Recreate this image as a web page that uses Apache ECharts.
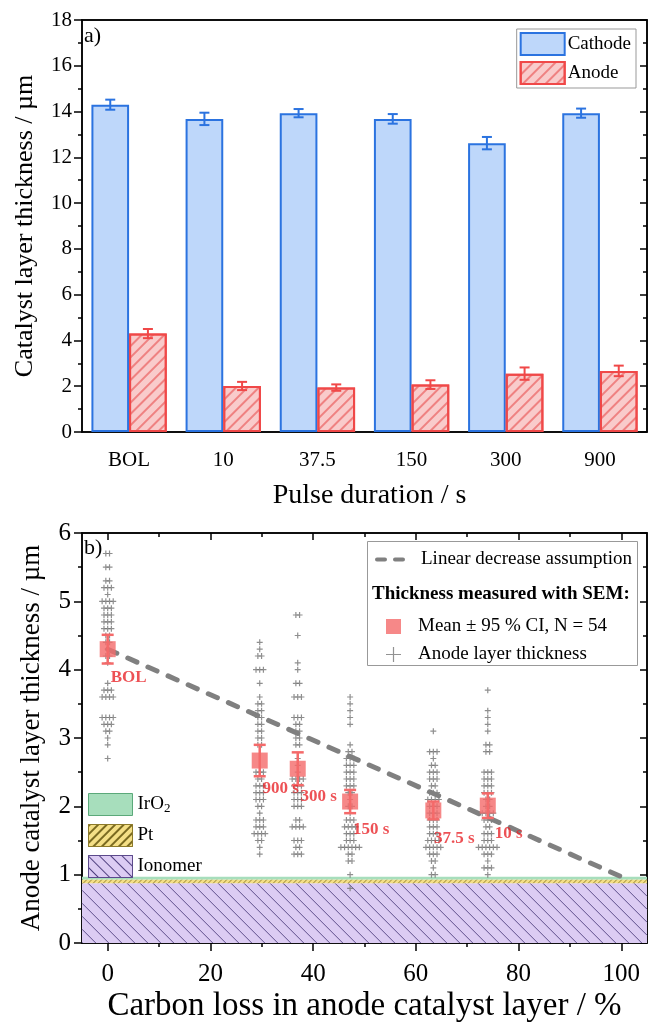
<!DOCTYPE html>
<html><head><meta charset="utf-8">
<script src="https://cdn.jsdelivr.net/npm/echarts@6/dist/echarts.min.js"></script>
<style>html,body{margin:0;padding:0;background:#fff}#c{width:649px;height:1024px}</style>
</head><body><div id="c"></div>
<script>
// ---------- data: panel a ----------
const categories = ['BOL', '10', '37.5', '150', '300', '900'];
const cathodeMean = [14.3, 13.68, 13.93, 13.68, 12.62, 13.93];
const cathodeErr  = [0.22, 0.27, 0.18, 0.21, 0.27, 0.20];
const anodeMean   = [4.30, 2.01, 1.94, 2.07, 2.55, 2.67];
const anodeErr    = [0.20, 0.18, 0.14, 0.19, 0.27, 0.23];

// ---------- data: panel b ----------
const sampleLabels = ['BOL', '900 s', '300 s', '150 s', '37.5 s', '10 s'];
const carbonLoss   = [0, 29.6, 37.0, 47.2, 63.4, 74.0];
const sampleMean   = [4.30, 2.67, 2.55, 2.07, 1.94, 2.01];
const sampleCI     = [0.21, 0.23, 0.24, 0.17, 0.13, 0.18];
const linearAssumption = [[0, 4.30], [100, 0.97]];
const layerIonomer = [0, 0.875];
const layerPt      = [0.875, 0.93];
const layerIrO2    = [0.93, 0.97];
const xTicksB = [0, 20, 40, 60, 80, 100];
const xMinorB = [10, 30, 50, 70, 90];

const thkBOL = [5.7,5.7,5.5,5.5,5.3,5.3,5.2,5.2,5.2,5.1,5.0,5.0,5.0,5.0,4.9,4.9,4.9,4.8,4.8,4.8,4.7,4.7,4.7,4.6,4.6,4.6,4.5,4.5,4.4,4.4,4.3,4.2,4.2,4.1,3.8,3.7,3.7,3.7,3.6,3.6,3.6,3.6,3.3,3.3,3.3,3.3,3.2,3.2,3.2,3.1,3.1,3.0,2.9,2.7];
const thk900 = [4.4,4.3,4.2,4.2,4.0,4.0,4.0,3.8,3.6,3.5,3.5,3.4,3.4,3.3,3.3,3.2,3.2,3.1,3.1,3.0,3.0,2.9,2.9,2.5,2.5,2.5,2.4,2.4,2.3,2.3,2.3,2.2,2.2,2.2,2.1,2.1,2.1,2.0,2.0,1.9,1.8,1.8,1.8,1.7,1.7,1.7,1.6,1.6,1.6,1.6,1.5,1.5,1.4,1.3];
const thk300 = [4.8,4.8,4.5,4.1,4.0,3.8,3.8,3.6,3.6,3.6,3.3,3.3,3.3,3.2,3.2,3.1,3.1,3.0,3.0,2.9,2.9,2.7,2.6,2.5,2.4,2.4,2.4,2.4,2.3,2.3,2.3,2.2,2.2,2.2,2.1,2.1,2.1,2.0,2.0,2.0,1.8,1.8,1.7,1.7,1.7,1.7,1.5,1.5,1.5,1.4,1.4,1.3,1.3,1.3];
const thk150 = [3.6,3.5,3.4,3.3,3.2,2.9,2.8,2.8,2.7,2.7,2.7,2.6,2.6,2.6,2.5,2.5,2.5,2.4,2.4,2.4,2.3,2.3,2.3,2.2,2.2,2.1,2.0,2.0,1.9,1.8,1.8,1.8,1.7,1.7,1.7,1.7,1.6,1.6,1.6,1.5,1.5,1.5,1.4,1.4,1.4,1.4,1.4,1.4,1.3,1.3,1.2,1.2,1.0,0.8];
const thk37_5 = [3.1,2.8,2.8,2.8,2.7,2.6,2.6,2.5,2.5,2.5,2.4,2.4,2.4,2.3,2.3,2.2,2.2,2.2,2.1,2.1,2.1,2.1,2.0,2.0,2.0,1.9,1.9,1.9,1.8,1.8,1.8,1.7,1.7,1.7,1.6,1.6,1.6,1.5,1.5,1.5,1.5,1.4,1.4,1.4,1.4,1.4,1.3,1.3,1.3,1.2,1.2,1.1,1.0,1.0];
const thk10 = [3.7,3.4,3.3,3.2,3.1,2.9,2.9,2.8,2.8,2.5,2.5,2.5,2.4,2.4,2.4,2.3,2.3,2.3,2.2,2.2,2.2,2.1,2.1,2.0,2.0,1.9,1.9,1.9,1.9,1.8,1.8,1.8,1.7,1.7,1.6,1.6,1.6,1.5,1.5,1.5,1.4,1.4,1.4,1.4,1.4,1.4,1.3,1.3,1.3,1.2,1.1,1.1,1.1,1.0];
const thicknessColumns = [thkBOL, thk900, thk300, thk150, thk37_5, thk10];

// ---------- helpers ----------
const FONT = 'Liberation Serif';
const BLUE = '#2B73E0', BLUE_FILL = '#BED7FA';
const RED = '#F04848', RED_FILL = '#F9CBCB';
const MEAN_RED = '#F46A6A';

// beeswarm: identical values are spread side by side around the column position
function swarm(x, vals, dx) {
  const counts = {}, seen = {};
  vals.forEach(v => counts[v] = (counts[v] || 0) + 1);
  return vals.map(v => {
    const k = counts[v]; const j = seen[v] || 0; seen[v] = j + 1;
    return [x + (j - (k - 1) / 2) * dx, v];
  });
}
const rawPoints = [];
thicknessColumns.forEach((col, i) => swarm(carbonLoss[i], col, 0.72).forEach(p => rawPoints.push(p)));

function barErrRender(color, side) {
  return function (params, api) {
    const i = api.value(0), v = api.value(1), e = api.value(2);
    const band = api.size([1, 0])[0];
    const x = api.coord([i, v])[0] + side * 0.2 * band;
    const yt = api.coord([i, v + e])[1], yb = api.coord([i, v - e])[1];
    const w = 5, st = { stroke: color, lineWidth: 2 };
    return { type: 'group', children: [
      { type: 'line', shape: { x1: x, y1: yt, x2: x, y2: yb }, style: st },
      { type: 'line', shape: { x1: x - w, y1: yt, x2: x + w, y2: yt }, style: st },
      { type: 'line', shape: { x1: x - w, y1: yb, x2: x + w, y2: yb }, style: st }
    ]};
  };
}
function ptErrRender(params, api) {
  const x = api.value(0), m = api.value(1), e = api.value(2);
  const p1 = api.coord([x, m + e]), p2 = api.coord([x, m - e]);
  const w = 6, st = { stroke: MEAN_RED, lineWidth: 2.5 };
  return { type: 'group', children: [
    { type: 'line', shape: { x1: p1[0], y1: p1[1], x2: p2[0], y2: p2[1] }, style: st },
    { type: 'line', shape: { x1: p1[0] - w, y1: p1[1], x2: p1[0] + w, y2: p1[1] }, style: st },
    { type: 'line', shape: { x1: p2[0] - w, y1: p2[1], x2: p2[0] + w, y2: p2[1] }, style: st }
  ]};
}
function layerRender(fill, hatchColor, dir, spacing) {
  return function (params, api) {
    const cs = params.coordSys;
    const lo = api.value(0), hi = api.value(1);
    const y0 = api.coord([0, hi])[1], y1 = api.coord([0, lo])[1];
    const x0 = cs.x, x1 = cs.x + cs.width;
    const ch = [{ type: 'rect', shape: { x: x0, y: y0, width: x1 - x0, height: y1 - y0 }, style: { fill: fill } }];
    if (dir) {
      const st = { stroke: hatchColor, lineWidth: 0.9 };
      if (dir > 0) { // "\"
        for (let c = y0 - x1; c <= y1 - x0; c += spacing) {
          const xa = Math.max(x0, y0 - c), xb = Math.min(x1, y1 - c);
          if (xb > xa) ch.push({ type: 'line', shape: { x1: xa, y1: c + xa, x2: xb, y2: c + xb }, style: st });
        }
      } else { // "/"
        for (let c = y0 + x0; c <= y1 + x1; c += spacing) {
          const xa = Math.max(x0, c - y1), xb = Math.min(x1, c - y0);
          if (xb > xa) ch.push({ type: 'line', shape: { x1: xa, y1: c - xa, x2: xb, y2: c - xb }, style: st });
        }
      }
    }
    return { type: 'group', children: ch };
  };
}
const PLUS = 'path://M4,0H6V4H10V6H6V10H4V6H0V4H4Z';
const PLUS_THIN = 'path://M9.2,0H10.8V9.2H20V10.8H10.8V20H9.2V10.8H0V9.2H9.2Z';
const DASH_ICON = 'path://M2,0H10A2,2 0 0 1 10,4H2A2,2 0 0 1 2,0Z M20,0H28A2,2 0 0 1 28,4H20A2,2 0 0 1 20,0Z';

const axisLine = { show: true, onZero: false, lineStyle: { color: '#000', width: 1.5 } };
const noLine = { show: false, onZero: false };
const tickStyle = { color: '#000', width: 1.5 };
const labelA = { color: '#000', fontFamily: FONT, fontSize: 21 };
const labelB = { color: '#000', fontFamily: FONT, fontSize: 25 };

const chart = echarts.init(document.getElementById('c'), null, { renderer: 'canvas' });
chart.setOption({
  backgroundColor: '#fff',
  animation: false,
  grid: [
    { left: 82, top: 20, width: 565, height: 412, show: true, borderColor: '#000', borderWidth: 1.5, backgroundColor: 'transparent' },
    { left: 82, top: 533, width: 565, height: 410, show: true, borderColor: '#000', borderWidth: 1.5, backgroundColor: 'transparent' }
  ],
  xAxis: [
    { gridIndex: 0, type: 'category', data: categories, position: 'bottom', axisLine: axisLine,
      axisTick: { alignWithLabel: true, length: 7, lineStyle: tickStyle },
      axisLabel: Object.assign({ margin: 18 }, labelA),
      name: 'Pulse duration / s', nameLocation: 'middle', nameGap: 50,
      nameTextStyle: { fontFamily: FONT, fontSize: 28, color: '#000', padding: [0, 0, 0, 10] } },
    { gridIndex: 0, type: 'category', data: categories, position: 'bottom', axisLine: noLine,
      axisTick: { length: 4, lineStyle: tickStyle }, axisLabel: { show: false } },
    { gridIndex: 0, type: 'category', data: categories, position: 'top', axisLine: axisLine,
      axisTick: { alignWithLabel: true, inside: true, length: 7, lineStyle: tickStyle }, axisLabel: { show: false } },
    { gridIndex: 0, type: 'category', data: categories, position: 'top', axisLine: noLine,
      axisTick: { inside: true, length: 4, lineStyle: tickStyle }, axisLabel: { show: false } },

    { gridIndex: 1, type: 'value', min: -5, max: 105, position: 'bottom', axisLine: axisLine, splitLine: { show: false },
      axisTick: { length: 8, lineStyle: tickStyle, customValues: xTicksB },
      axisLabel: Object.assign({ margin: 19, customValues: xTicksB }, labelB),
      name: 'Carbon loss in anode catalyst layer / %', nameLocation: 'middle', nameGap: 47,
      nameTextStyle: { fontFamily: FONT, fontSize: 33, color: '#000' } },
    { gridIndex: 1, type: 'value', min: -5, max: 105, position: 'bottom', axisLine: noLine, splitLine: { show: false },
      axisTick: { length: 4, lineStyle: tickStyle, customValues: xMinorB }, axisLabel: { show: false } },
    { gridIndex: 1, type: 'value', min: -5, max: 105, position: 'top', axisLine: axisLine, splitLine: { show: false },
      axisTick: { inside: true, length: 7, lineStyle: tickStyle, customValues: xTicksB }, axisLabel: { show: false } },
    { gridIndex: 1, type: 'value', min: -5, max: 105, position: 'top', axisLine: noLine, splitLine: { show: false },
      axisTick: { inside: true, length: 4, lineStyle: tickStyle, customValues: xMinorB }, axisLabel: { show: false } }
  ],
  yAxis: [
    { gridIndex: 0, type: 'value', min: 0, max: 18, interval: 2, position: 'left', axisLine: axisLine, splitLine: { show: false },
      axisTick: { show: true, length: 8, lineStyle: tickStyle },
      minorTick: { show: true, splitNumber: 2, length: 4, lineStyle: tickStyle },
      axisLabel: Object.assign({ margin: 10 }, labelA),
      name: 'Catalyst layer thickness / µm', nameLocation: 'middle', nameGap: 44, nameRotate: 90,
      nameTextStyle: { fontFamily: FONT, fontSize: 26, color: '#000' } },
    { gridIndex: 0, type: 'value', min: 0, max: 18, interval: 2, position: 'right', axisLine: axisLine, splitLine: { show: false },
      axisTick: { show: true, inside: true, length: 7, lineStyle: tickStyle },
      minorTick: { show: true, splitNumber: 2, length: 4, lineStyle: tickStyle }, axisLabel: { show: false } },
    { gridIndex: 1, type: 'value', min: 0, max: 6, interval: 1, position: 'left', axisLine: axisLine, splitLine: { show: false },
      axisTick: { show: true, length: 8, lineStyle: tickStyle },
      minorTick: { show: true, splitNumber: 2, length: 4, lineStyle: tickStyle },
      axisLabel: Object.assign({ margin: 11 }, labelB),
      name: 'Anode catalyst layer thickness / µm', nameLocation: 'middle', nameGap: 37, nameRotate: 90,
      nameTextStyle: { fontFamily: FONT, fontSize: 27, color: '#000' } },
    { gridIndex: 1, type: 'value', min: 0, max: 6, interval: 1, position: 'right', axisLine: axisLine, splitLine: { show: false },
      axisTick: { show: true, inside: true, length: 7, lineStyle: tickStyle },
      minorTick: { show: true, splitNumber: 2, length: 4, lineStyle: tickStyle }, axisLabel: { show: false } }
  ],
  legend: [
    { data: [{ name: 'Cathode', icon: 'rect' }, { name: 'Anode', icon: 'rect' }],
      orient: 'vertical', right: 13, top: 29, itemWidth: 44, itemHeight: 22, itemGap: 5,
      padding: [3, 5, 3, 3], borderColor: '#999', borderWidth: 1, backgroundColor: '#fff',
      textStyle: { fontFamily: FONT, fontSize: 19, color: '#000', padding: [0, 0, 0, -2] } },
    { data: [{ name: 'Linear decrease assumption', icon: DASH_ICON, itemStyle: { color: '#808080' } }],
      left: 375, top: 550, itemWidth: 30, itemHeight: 5, padding: 0,
      textStyle: { fontFamily: FONT, fontSize: 19, color: '#000', padding: [0, 0, 0, 11] } },
    { data: [{ name: 'Mean ± 95 % CI, N = 54', icon: 'rect' }, { name: 'Anode layer thickness', icon: PLUS_THIN, itemStyle: { color: '#777' } }],
      orient: 'vertical', left: 386, top: 617, itemWidth: 15, itemHeight: 15, itemGap: 9, padding: 0,
      textStyle: { fontFamily: FONT, fontSize: 19, color: '#000', padding: [0, 0, 0, 12] } },
    { data: [
        { name: 'IrO2', icon: 'rect', itemStyle: { color: '#A7DEBC', borderColor: '#5BA97A', borderWidth: 1 } },
        { name: 'Pt', icon: 'rect', itemStyle: { color: '#F4DF86', borderColor: '#8C7A2A', borderWidth: 1,
            decal: { symbol: 'rect', dashArrayX: [1, 0], dashArrayY: [1.2, 4], rotation: -Math.PI / 4, color: '#7A6A20' } } },
        { name: 'Ionomer', icon: 'rect', itemStyle: { color: '#DCCCF3', borderColor: '#5C4A8C', borderWidth: 1,
            decal: { symbol: 'rect', dashArrayX: [1, 0], dashArrayY: [1, 7], rotation: Math.PI / 4, color: '#4F3F7F' } } }
      ],
      orient: 'vertical', left: 88, top: 793, itemWidth: 44, itemHeight: 22, itemGap: 8, padding: 0,
      formatter: n => n === 'IrO2' ? 'IrO{sub|2}' : n,
      textStyle: { fontFamily: FONT, fontSize: 19, color: '#000',
        rich: { sub: { fontFamily: FONT, fontSize: 13, color: '#000', verticalAlign: 'bottom', padding: [8, 0, 0, 0] } } } }
  ],
  graphic: [
    { type: 'text', left: 84, top: 25, style: { text: 'a)', font: '22px "Liberation Serif"', fill: '#000' } },
    { type: 'text', left: 84, top: 537, style: { text: 'b)', font: '22px "Liberation Serif"', fill: '#000' } },
    { type: 'rect', left: 367, top: 541, shape: { width: 270, height: 124 }, z: 3,
      style: { fill: '#fff', stroke: '#999', lineWidth: 1 } },
    { type: 'text', left: 372, top: 585, z: 5,
      style: { text: 'Thickness measured with SEM:', font: 'bold 19px "Liberation Serif"', fill: '#000' } }
  ],
  series: [
    { name: 'Cathode', type: 'bar', xAxisIndex: 0, yAxisIndex: 0, data: cathodeMean, barWidth: '40%', barGap: '0%',
      itemStyle: { color: BLUE_FILL, borderColor: BLUE, borderWidth: 2 } },
    { name: 'Anode', type: 'bar', xAxisIndex: 0, yAxisIndex: 0, data: anodeMean, barWidth: '40%', barGap: '0%',
      itemStyle: { color: RED_FILL, borderColor: RED, borderWidth: 2,
        decal: { symbol: 'rect', dashArrayX: [1, 0], dashArrayY: [1.2, 6], rotation: -Math.PI / 4, color: 'rgba(232,80,80,0.6)' } } },
    { type: 'custom', xAxisIndex: 0, yAxisIndex: 0, z: 4, renderItem: barErrRender(BLUE, -1),
      data: categories.map((c, i) => [i, cathodeMean[i], cathodeErr[i]]) },
    { type: 'custom', xAxisIndex: 0, yAxisIndex: 0, z: 4, renderItem: barErrRender(RED, 1),
      data: categories.map((c, i) => [i, anodeMean[i], anodeErr[i]]) },

    { name: 'Ionomer', type: 'custom', xAxisIndex: 4, yAxisIndex: 2, z: 1, itemStyle: { color: '#DCCCF3' },
      renderItem: layerRender('#DCCCF3', '#4F3F7F', 1, 13), data: [layerIonomer] },
    { name: 'Pt', type: 'custom', xAxisIndex: 4, yAxisIndex: 2, z: 1, itemStyle: { color: '#F4DF86' },
      renderItem: layerRender('#F4DF86', '#8C7A2A', -1, 5), data: [layerPt] },
    { name: 'IrO2', type: 'custom', xAxisIndex: 4, yAxisIndex: 2, z: 1, itemStyle: { color: '#A7DEBC' },
      renderItem: layerRender('#A7DEBC', null, 0, 0), data: [layerIrO2] },

    { name: 'Anode layer thickness', type: 'scatter', xAxisIndex: 4, yAxisIndex: 2, z: 2,
      symbol: PLUS, symbolSize: 6, itemStyle: { color: '#737373' }, data: rawPoints },
    { name: 'Linear decrease assumption', type: 'line', xAxisIndex: 4, yAxisIndex: 2, z: 3, symbol: 'none',
      lineStyle: { color: '#808080', width: 5, type: [10, 12], cap: 'round' }, itemStyle: { color: '#808080' },
      data: linearAssumption },
    { type: 'custom', xAxisIndex: 4, yAxisIndex: 2, z: 4, renderItem: ptErrRender,
      data: carbonLoss.map((x, i) => [x, sampleMean[i], sampleCI[i]]) },
    { name: 'Mean ± 95 % CI, N = 54', type: 'scatter', xAxisIndex: 4, yAxisIndex: 2, z: 5,
      symbol: 'rect', symbolSize: 16, itemStyle: { color: MEAN_RED },
      label: { show: true, position: 'inside', offset: [21, 28], formatter: p => sampleLabels[p.dataIndex],
        fontFamily: FONT, fontWeight: 'bold', fontSize: 17, color: '#E8262B', textBorderWidth: 0, textBorderColor: 'transparent' },
      data: carbonLoss.map((x, i) => [x, sampleMean[i]]) }
  ]
});
</script></body></html>
